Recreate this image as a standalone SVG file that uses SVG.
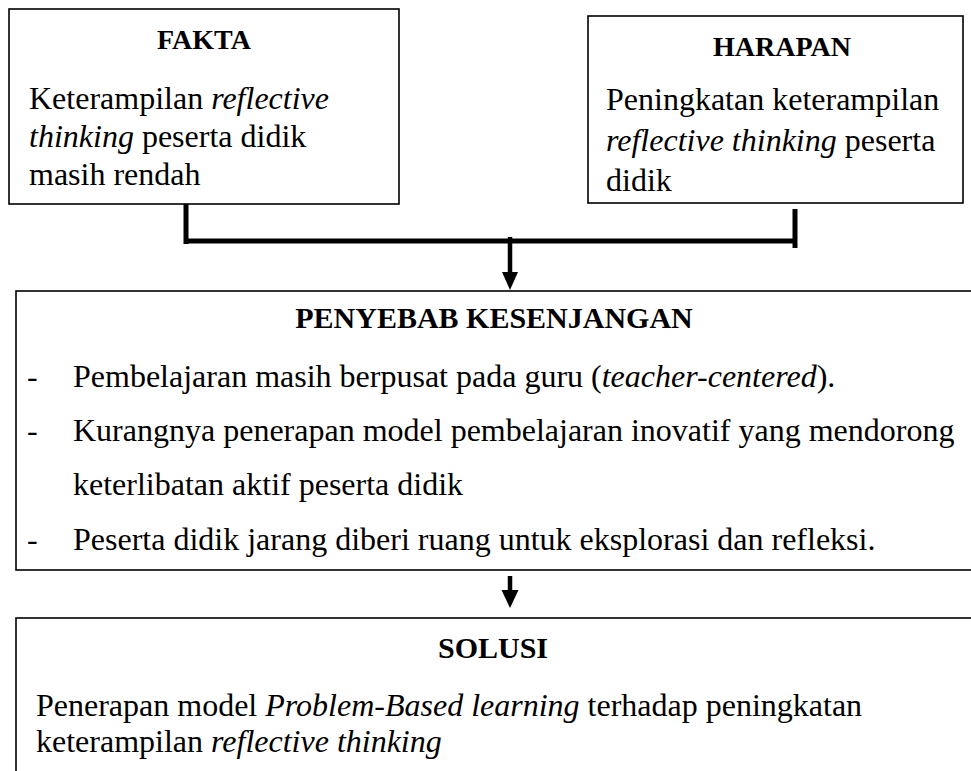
<svg xmlns="http://www.w3.org/2000/svg" width="971" height="771" viewBox="0 0 971 771">
<style>
.box{fill:#fff;stroke:#000;stroke-width:1.6}
.t{font-family:"Liberation Serif","Times New Roman",serif;font-size:32px;fill:#000}
.h{font-family:"Liberation Serif","Times New Roman",serif;font-size:28px;font-weight:bold;fill:#000}
.hl{font-size:30px}
.i{font-style:italic}
.c{fill:none;stroke:#000;stroke-width:5}
.a{fill:none;stroke:#000;stroke-width:4.5}
</style>
<rect width="971" height="771" fill="#fff"/>
<g id="fakta">
<rect class="box" x="9" y="9" width="390" height="195"/>
<text class="h" x="204" y="49" text-anchor="middle">FAKTA</text>
<text class="t" x="29" y="109">Keterampilan <tspan class="i">reflective</tspan></text>
<text class="t" x="29" y="147"><tspan class="i">thinking</tspan> peserta didik</text>
<text class="t" x="29" y="185">masih rendah</text>
</g>
<g id="harapan">
<rect class="box" x="588" y="16" width="375" height="187"/>
<text class="h" x="782" y="56" text-anchor="middle">HARAPAN</text>
<text class="t" x="606" y="110">Peningkatan keterampilan</text>
<text class="t" x="606" y="151"><tspan class="i">reflective thinking</tspan> peserta</text>
<text class="t" x="606" y="191">didik</text>
</g>
<g id="penyebab">
<rect class="box" x="16" y="291" width="965" height="279"/>
<text class="h hl" x="494" y="328" text-anchor="middle">PENYEBAB KESENJANGAN</text>
<text class="t" x="27" y="387">-</text>
<text class="t" x="73" y="387">Pembelajaran masih berpusat pada guru (<tspan class="i">teacher-centered</tspan>).</text>
<text class="t" x="27" y="441">-</text>
<text class="t" x="73" y="441">Kurangnya penerapan model pembelajaran inovatif yang mendorong</text>
<text class="t" x="73" y="495">keterlibatan aktif peserta didik</text>
<text class="t" x="27" y="550">-</text>
<text class="t" x="73" y="550">Peserta didik jarang diberi ruang untuk eksplorasi dan refleksi.</text>
</g>
<g id="solusi">
<rect class="box" x="16" y="618" width="965" height="170"/>
<text class="h hl" x="493" y="658" text-anchor="middle">SOLUSI</text>
<text class="t" x="36" y="716">Penerapan model <tspan class="i">Problem-Based learning</tspan> terhadap peningkatan</text>
<text class="t" x="36" y="752">keterampilan <tspan class="i">reflective thinking</tspan></text>
</g>
<g id="connectors">
<path class="c" d="M186 204 V244"/>
<path class="c" d="M795 209 V248"/>
<path class="c" d="M184 241 H797"/>
<path class="a" d="M510 237 V274"/>
<polygon points="502,272 518,272 510,290" fill="#000"/>
<path class="a" d="M510 576 V592"/>
<polygon points="501.5,590 518.5,590 510,608" fill="#000"/>
</g>
</svg>
